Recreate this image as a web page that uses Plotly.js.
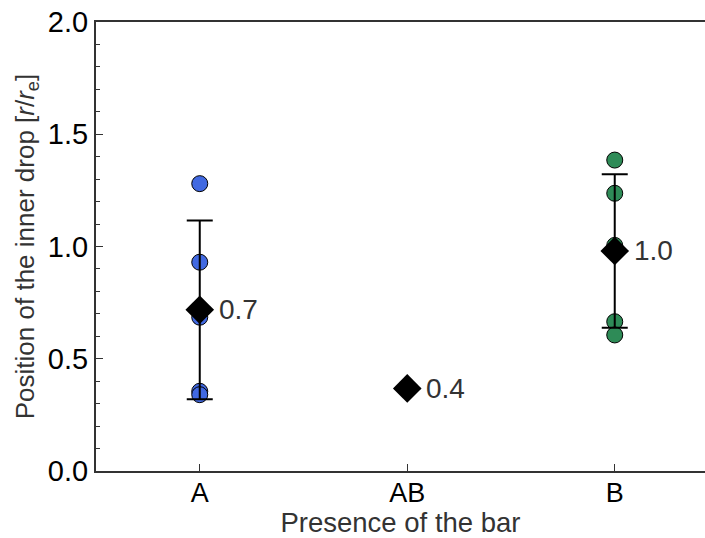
<!DOCTYPE html>
<html>
<head>
<meta charset="utf-8">
<script src="https://cdn.plot.ly/plotly-3.0.1.min.js"></script>
<style>html,body{margin:0;padding:0;background:#fff;overflow:hidden}</style>
</head>
<body>
<div id="chart" style="width:705px;height:538px"></div>
<script>
const categories = ["A", "AB", "B"];
const pointsA = [1.28, 0.93, 0.685, 0.355, 0.34];
const pointsB = [1.385, 1.237, 1.005, 0.665, 0.606];
const means = [0.718, 0.368, 0.98];
const stds = [0.398, 0, 0.342];
const meanLabels = ["0.7", "0.4", "1.0"];

const traces = [
  {
    type: "scatter", mode: "markers",
    x: pointsA.map(() => categories[0]), y: pointsA,
    marker: {color: "#4169E1", size: 16, line: {color: "#000", width: 1}},
    showlegend: false, hoverinfo: "y"
  },
  {
    type: "scatter", mode: "markers",
    x: pointsB.map(() => categories[2]), y: pointsB,
    marker: {color: "#2E8B57", size: 16, line: {color: "#000", width: 1}},
    showlegend: false, hoverinfo: "y"
  },
  {
    type: "scatter", mode: "markers",
    x: categories, y: means,
    marker: {color: "#000", symbol: "diamond", size: 22, line: {color: "#000", width: 0}},
    error_y: {type: "data", array: stds, visible: true, color: "#000", thickness: 2, width: 13},
    showlegend: false, hoverinfo: "y"
  }
];

const annotations = categories.map((c, i) => ({
  x: c, y: means[i], xref: "x", yref: "y",
  text: meanLabels[i], showarrow: false,
  xanchor: "left", yanchor: "middle", xshift: 17,
  font: {family: "Liberation Sans, Arial, sans-serif", size: 28, color: "#333"}
}));

const layout = {
  width: 705, height: 538,
  margin: {l: 96, r: 0, t: 22, b: 67},
  paper_bgcolor: "#fff", plot_bgcolor: "#fff",
  font: {family: "Liberation Sans, Arial, sans-serif", size: 28, color: "#000"},
  xaxis: {
    type: "category", categoryorder: "array", categoryarray: categories,
    range: [-0.5, 2.435],
    showline: true, linecolor: "#333", linewidth: 2, mirror: true,
    ticks: "inside", ticklen: 7, tickwidth: 1.2, tickcolor: "#333",
    ticklabelstandoff: -3,
    showgrid: false, zeroline: false,
    tickfont: {size: 27, color: "#000"},
    title: {text: "Presence of the bar", font: {size: 27.5, color: "#333"}, standoff: 2}
  },
  yaxis: {
    range: [0, 2.0], tickvals: [0, 0.5, 1.0, 1.5, 2.0], tickformat: ".1f",
    showline: true, linecolor: "#333", linewidth: 2,
    ticks: "inside", ticklen: 7, tickwidth: 1.2, tickcolor: "#333",
    minor: {dtick: 0.1, ticks: "inside", ticklen: 3.5, tickwidth: 1, tickcolor: "#333", showgrid: false},
    showgrid: false, zeroline: false,
    tickfont: {size: 29, color: "#000"},
    title: {text: "Position of the inner drop [<i>r</i>/<i>r</i><sub>e</sub>]", font: {size: 26, color: "#333"}, standoff: 6}
  },
  annotations: annotations
};

Plotly.newPlot("chart", traces, layout, {displayModeBar: false, staticPlot: true});
</script>
</body>
</html>
